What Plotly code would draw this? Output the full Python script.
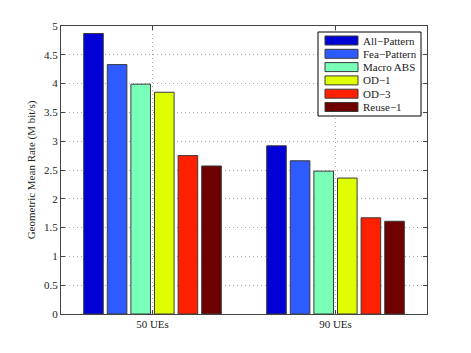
import plotly.graph_objects as go

groups = ["50 UEs", "90 UEs"]
schemes = ["All\u2212Pattern", "Fea\u2212Pattern", "Macro ABS", "OD\u22121", "OD\u22123", "Reuse\u22121"]
all_pattern = [4.87, 2.92]
fea_pattern = [4.33, 2.66]
macro_abs = [3.99, 2.48]
od_1 = [3.85, 2.36]
od_3 = [2.75, 1.67]
reuse_1 = [2.57, 1.61]
y_ticks = [0, 0.5, 1, 1.5, 2, 2.5, 3, 3.5, 4, 4.5, 5]

colors = ["#0000D6", "#2E5BFF", "#7AFFB8", "#DFFF00", "#FF2000", "#6E0000"]
series = [all_pattern, fea_pattern, macro_abs, od_1, od_3, reuse_1]
edge = "#3a3a3a"

font = "Liberation Serif"
# the page body has an 8px margin, so the figure is shrunk/shifted to compensate
PAD = 8
W, H = 471 - PAD, 353 - PAD
margin = dict(l=61 - PAD, r=44, t=26 - PAD, b=39)
plot_w = W - margin["l"] - margin["r"]
plot_h = H - margin["t"] - margin["b"]


# screen pixel -> paper coords
def px_x(x):
    return (x - PAD - margin["l"]) / plot_w


def px_y(y):
    return (H - margin["b"] - (y - PAD)) / plot_h


fig = go.Figure()
for name, vals, color in zip(schemes, series, colors):
    fig.add_trace(
        go.Bar(
            x=groups,
            y=vals,
            name=name,
            marker=dict(color=color, line=dict(color=edge, width=1)),
        )
    )

# MATLAB-style legend box with wide swatches (plotly's legend rows are too tall)
shapes = [
    dict(type="rect", xref="paper", yref="paper",
         x0=px_x(318), x1=px_x(421), y0=px_y(116), y1=px_y(32),
         fillcolor="white", line=dict(color="#000", width=1), layer="above")
]
annotations = []
for i, (name, color) in enumerate(zip(schemes, colors)):
    cy = 40.5 + i * 13.3
    shapes.append(
        dict(type="rect", xref="paper", yref="paper",
             x0=px_x(325), x1=px_x(358), y0=px_y(cy + 4.5), y1=px_y(cy - 4.5),
             fillcolor=color, line=dict(color=edge, width=1), layer="above")
    )
    annotations.append(
        dict(xref="paper", yref="paper", x=px_x(361), y=px_y(cy),
             xanchor="left", yanchor="middle", text=name, showarrow=False,
             font=dict(family=font, size=11, color="#222"))
    )

fig.update_layout(
    width=W,
    height=H,
    margin=margin,
    barmode="group",
    bargap=0.226,
    bargroupgap=0.17,
    plot_bgcolor="white",
    paper_bgcolor="white",
    font=dict(family=font, size=11, color="#222"),
    showlegend=False,
    shapes=shapes,
    annotations=annotations,
)

fig.update_xaxes(
    automargin=False,
    showline=True,
    linecolor="#444",
    linewidth=1,
    mirror="ticks",
    ticks="inside",
    ticklen=4,
    tickcolor="#444",
    showgrid=True,
    gridcolor="#aaa",
    griddash="1px,3px",
    gridwidth=1,
)
fig.update_yaxes(
    automargin=False,
    range=[0, 5],
    tickvals=y_ticks,
    ticktext=[f"{t:g}" for t in y_ticks],
    showline=True,
    linecolor="#444",
    linewidth=1,
    mirror="ticks",
    ticks="inside",
    ticklen=4,
    tickcolor="#444",
    showgrid=True,
    gridcolor="#aaa",
    griddash="1px,3px",
    gridwidth=1,
    zeroline=False,
    title=dict(text="Geometric Mean Rate (M bit/s)", font=dict(size=11), standoff=6),
)

fig.write_html("out.html")
